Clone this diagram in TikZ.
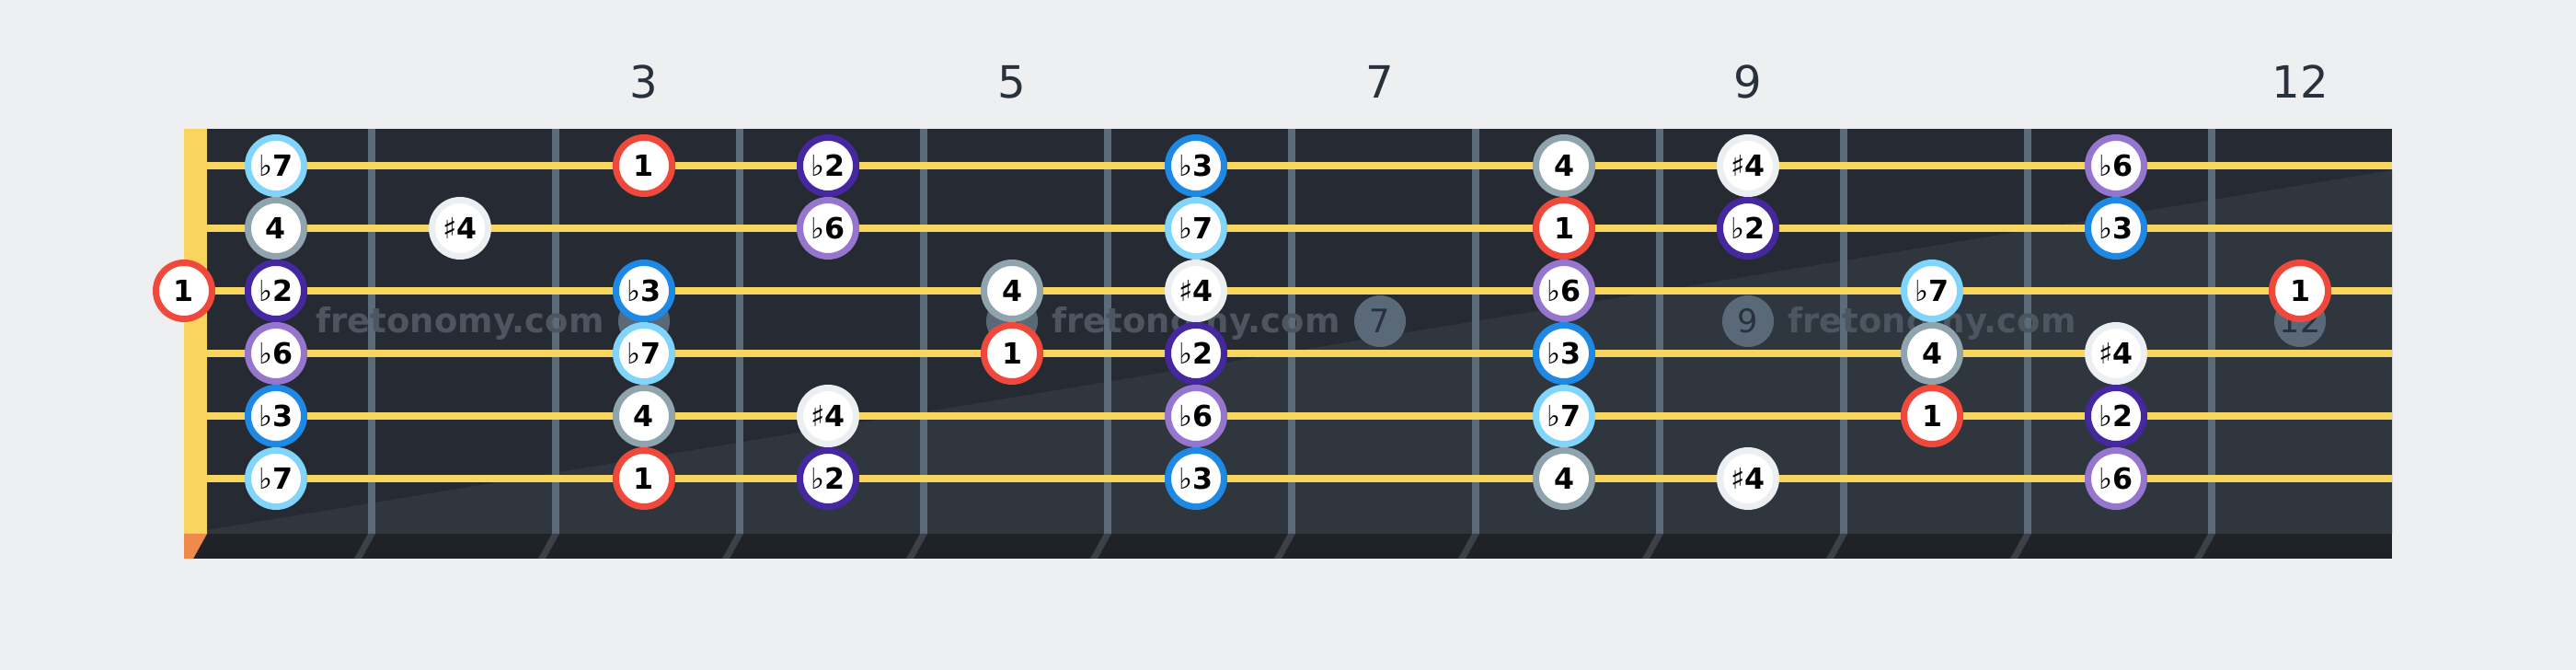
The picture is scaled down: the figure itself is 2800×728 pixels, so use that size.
\documentclass[tikz,border=0pt]{standalone}
\usepackage{fontspec}
\setmainfont{DejaVu Sans}
\newcommand\myflat{{\mdseries ♭}}
\newcommand\mysharp{{\mdseries ♯}}
\definecolor{bgc}{HTML}{EDEFF1}
\definecolor{board}{HTML}{262B33}
\definecolor{boardlt}{HTML}{2F363E}
\definecolor{stripc}{HTML}{1F2328}
\definecolor{stripfret}{HTML}{3B4049}
\definecolor{fretc}{HTML}{5C6B79}
\definecolor{strc}{HTML}{F8D55F}
\definecolor{nutlow}{HTML}{EE8A4C}
\definecolor{numc}{HTML}{29323C}
\definecolor{wmc}{HTML}{4D5560}
\definecolor{markc}{HTML}{5A6978}
\definecolor{cR}{HTML}{F0483A}
\definecolor{cBtwo}{HTML}{4527A0}
\definecolor{cBthree}{HTML}{1E88E5}
\definecolor{cFour}{HTML}{90A4AE}
\definecolor{cSfour}{HTML}{ECEFF1}
\definecolor{cBsix}{HTML}{9575CD}
\definecolor{cBseven}{HTML}{81D4FA}
\begin{document}
\begin{tikzpicture}[x=0.01cm,y=-0.01cm,
  note/.style={circle,fill=white,line width=1.99pt,minimum size=0.61cm,inner sep=0pt,
    font=\fontsize{9pt}{9pt}\selectfont\bfseries,text height=6.6pt,text depth=0pt,text=black},
  k1/.style={draw=cR,node contents={1}},
  kb2/.style={draw=cBtwo,node contents={\myflat2}},
  kb3/.style={draw=cBthree,node contents={\myflat3}},
  k4/.style={draw=cFour,node contents={4}},
  ks4/.style={draw=cSfour,node contents={\mysharp4}},
  kb6/.style={draw=cBsix,node contents={\myflat6}},
  kb7/.style={draw=cBseven,node contents={\myflat7}},
  marker/.style={circle,fill=markc,minimum size=0.56cm,inner sep=0pt,
    font=\fontsize{10pt}{10pt}\selectfont,text=numc,text height=7.3pt,text depth=0pt},
  fretnum/.style={anchor=base,font=\fontsize{13.7pt}{13.7pt}\selectfont,text=numc,inner sep=0pt},
  wmark/.style={anchor=base,font=\fontsize{10.5pt}{10.5pt}\selectfont\bfseries,text=wmc,inner sep=0pt},
  stringline/.style={strc,line width=2.13pt}
]
\useasboundingbox (0,0) rectangle (2800,728);
\fill[bgc] (0,0) rectangle (2800,728);
% fretboard
\fill[board] (200,140) rectangle (2600,580);
\fill[boardlt] (225,576) -- (2600,185) -- (2600,580) -- (225,580) -- cycle;
\fill[stripc] (200,580) rectangle (2600,607);
% frets
\foreach \k in {1,...,11}{
  \fill[fretc] ({200*\k+200},140) rectangle ({200*\k+208},580);
  \fill[stripfret] ({200*\k+200},580) -- ({200*\k+208},580) -- ({200*\k+193},607) -- ({200*\k+185},607) -- cycle;
}
% nut
\fill[strc] (200,140) rectangle (225,580);
\fill[nutlow] (200,580) -- (225,580) -- (210,607) -- (200,607) -- cycle;
% strings
\foreach \s in {1,...,6}
  \draw[stringline] (225,{180+68*(\s-1)}) -- (2600,{180+68*(\s-1)});
% watermarks
\node[wmark] (w1) at (500,362) {fretonomy.com};
\node[wmark] (w2) at (1300,362) {fretonomy.com};
\node[wmark] (w3) at (2100,362) {fretonomy.com};
% fret markers
\foreach \f in {3,5,7,9,12}
  \node[marker] (m\f) at ({200*\f+100},349) {\f};
% notes
\node[note,name=n3-0,at={(200,316)},k1];
\foreach \f/\k in {1/kb7,3/k1,4/kb2,6/kb3,8/k4,9/ks4,11/kb6}
  \node[note,name=n1-\f,at={({100+200*\f},180)},\k];
\foreach \f/\k in {1/k4,2/ks4,4/kb6,6/kb7,8/k1,9/kb2,11/kb3}
  \node[note,name=n2-\f,at={({100+200*\f},248)},\k];
\foreach \f/\k in {1/kb2,3/kb3,5/k4,6/ks4,8/kb6,10/kb7,12/k1}
  \node[note,name=n3-\f,at={({100+200*\f},316)},\k];
\foreach \f/\k in {1/kb6,3/kb7,5/k1,6/kb2,8/kb3,10/k4,11/ks4}
  \node[note,name=n4-\f,at={({100+200*\f},384)},\k];
\foreach \f/\k in {1/kb3,3/k4,4/ks4,6/kb6,8/kb7,10/k1,11/kb2}
  \node[note,name=n5-\f,at={({100+200*\f},452)},\k];
\foreach \f/\k in {1/kb7,3/k1,4/kb2,6/kb3,8/k4,9/ks4,11/kb6}
  \node[note,name=n6-\f,at={({100+200*\f},520)},\k];
% fret numbers
\foreach \f in {3,5,7,9,12}
  \node[fretnum] (t\f) at ({200*\f+100},107) {\f};
\end{tikzpicture}
\end{document}
